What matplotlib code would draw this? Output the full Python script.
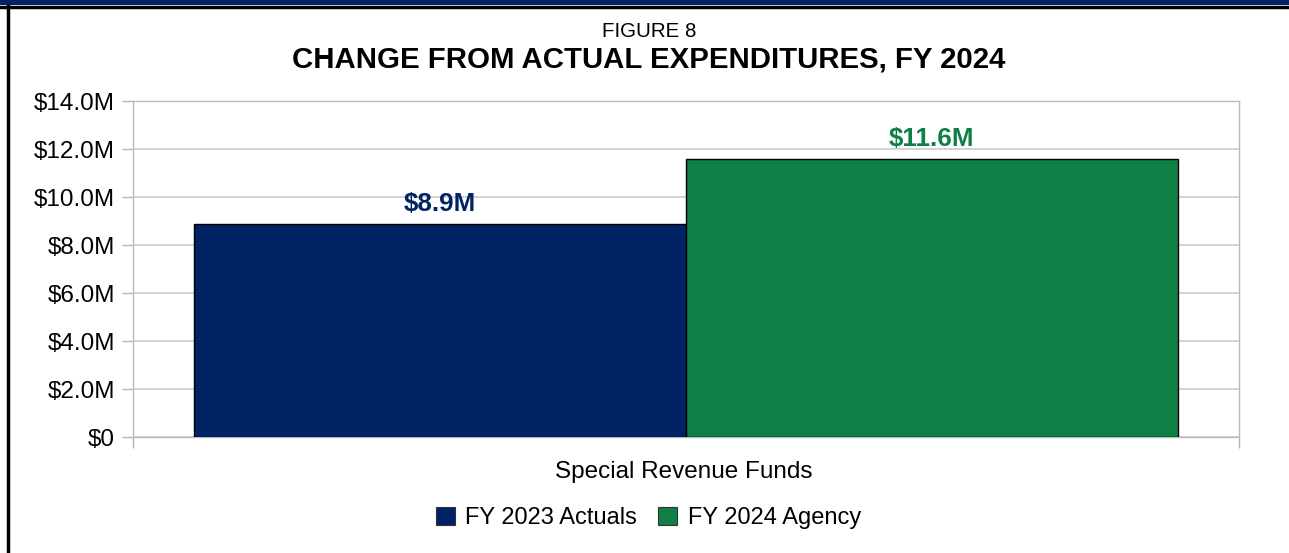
import matplotlib.pyplot as plt
import matplotlib.patches as mpatches
from matplotlib.lines import Line2D

plt.rcParams['font.family'] = ['Liberation Sans', 'DejaVu Sans']

# data
category = "Special Revenue Funds"
series = ["FY 2023 Actuals", "FY 2024 Agency"]
values = [8.875, 11.6]          # $ millions
value_labels = ["$8.9M", "$11.6M"]
colors = ["#002366", "#0e7f45"]
yticks = [0, 2, 4, 6, 8, 10, 12, 14]
ytick_labels = ["$0", "$2.0M", "$4.0M", "$6.0M", "$8.0M", "$10.0M", "$12.0M", "$14.0M"]

W, H = 1289, 553
fig = plt.figure(figsize=(W/100, H/100), dpi=100)
ax = fig.add_axes([133/W, 1 - 437/H, (1239 - 133)/W, (437 - 101)/H])

bar_w = 0.4445
xs = [-bar_w/2, bar_w/2]
for x, v, c, lab, name in zip(xs, values, colors, value_labels, series):
    ax.bar(x, v, width=bar_w, color=c, edgecolor='black', linewidth=1, label=name, zorder=3)
    ax.text(x, v + 0.54, lab, ha='center', va='baseline', fontsize=18.7,
            fontweight='bold', color=c)

ax.set_xlim(-0.5, 0.5)
ax.set_ylim(0, 14)
ax.set_yticks(yticks)
ax.set_yticklabels(ytick_labels, fontsize=17.5)
ax.set_xticks([-0.5, 0.5])
ax.set_xticklabels(["", ""])
ax.tick_params(axis='both', color='#b4b4b4', length=8, width=1, pad=5)
ax.grid(axis='y', color='#cccccc', linewidth=1.2, zorder=0)
for s in ax.spines.values():
    s.set_color('#bbbbbb')
    s.set_linewidth(1)

fig.text(684/W, 1 - 478/H, category, ha='center', va='baseline', fontsize=17.5)

fig.text(649.5/W, 1 - 37/H, "FIGURE 8", ha='center', va='baseline', fontsize=14.8)
fig.text(648.5/W, 1 - 68/H, "CHANGE FROM ACTUAL EXPENDITURES, FY 2024", ha='center',
         va='baseline', fontsize=21.2, fontweight='bold')

handles = [mpatches.Patch(facecolor=c, edgecolor='#333333', linewidth=0.8) for c in colors]
fig.legend(handles, series, loc='center', bbox_to_anchor=(648.5/W, 1 - 518/H),
           ncol=2, frameon=False, fontsize=17, handlelength=0.8, handleheight=0.8,
           handletextpad=0.45, columnspacing=0.9)

# page frame: navy band on top, black rules
fig.patches.append(mpatches.Rectangle((0, 1 - 5/H), 1, 5/H, transform=fig.transFigure,
                                      facecolor='#002366', edgecolor='none'))
fig.lines.append(Line2D([0, 1], [1 - 7/H, 1 - 7/H], transform=fig.transFigure,
                        color='black', linewidth=2.5))
fig.lines.append(Line2D([7.5/W, 7.5/W], [0, 1 - 6/H], transform=fig.transFigure,
                        color='black', linewidth=2.5))

fig.savefig("out.png", dpi=100)
